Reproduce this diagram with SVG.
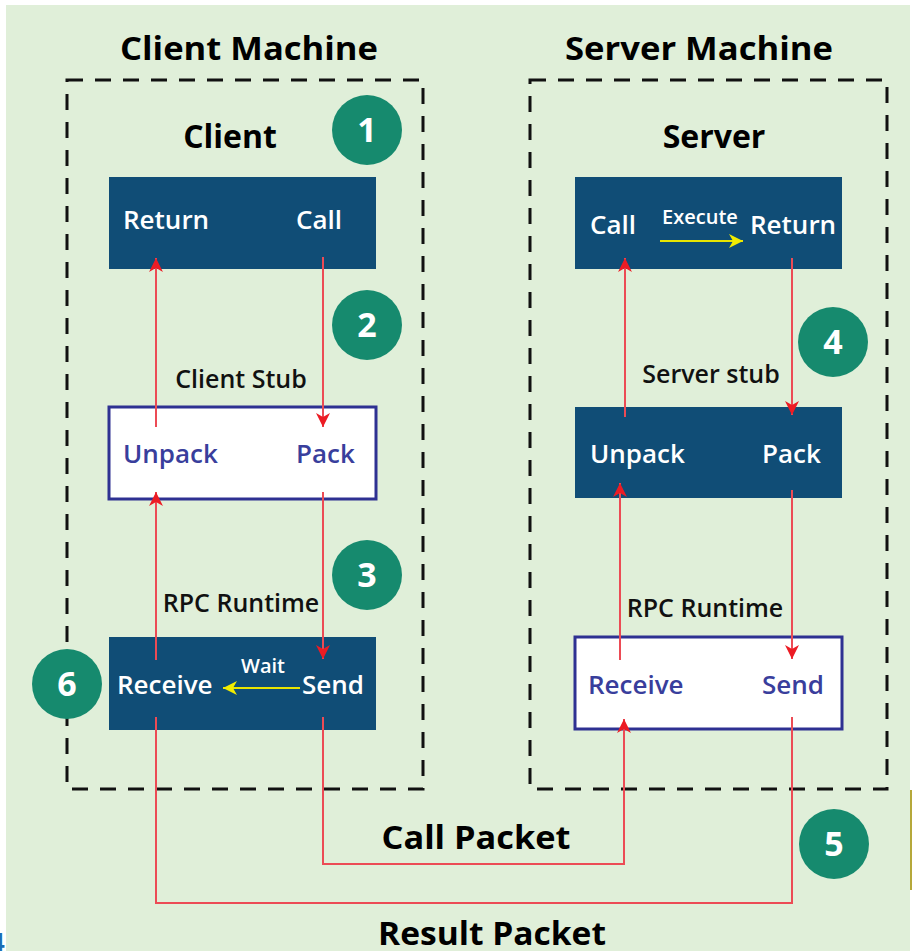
<svg xmlns="http://www.w3.org/2000/svg" width="912" height="951" viewBox="0 0 912 951">
  <defs>
    <marker id="redArrow" markerUnits="userSpaceOnUse" markerWidth="14" markerHeight="14" viewBox="0 0 14 14" refX="14" refY="7" orient="auto">
      <path d="M0,0 L14,7 L0,14 L4,7 z" fill="#ec1c24"/>
    </marker>
    <marker id="yellowArrow" markerUnits="userSpaceOnUse" markerWidth="14" markerHeight="14" viewBox="0 0 14 14" refX="14" refY="7" orient="auto">
      <path d="M0,0 L14,7 L0,14 L4,7 z" fill="#f2ec00"/>
    </marker>
    <style>
      .title { font-family: "Open Sans", "Liberation Sans", sans-serif; font-weight: bold; fill: #000; }
      .lbl { font-family: "Open Sans", "Liberation Sans", sans-serif; font-size: 25px; font-weight: 600; fill: #111; }
      .wt { font-family: "Open Sans", "Liberation Sans", sans-serif; font-size: 26px; font-weight: 600; fill: #ffffff; }
      .pt { font-family: "Open Sans", "Liberation Sans", sans-serif; font-size: 26px; font-weight: 600; fill: #393e9c; }
      .small { font-family: "Open Sans", "Liberation Sans", sans-serif; font-size: 20px; font-weight: 600; fill: #ffffff; }
      .dark { fill: #104d76; }
      .white { fill: #ffffff; stroke: #2e3192; stroke-width: 3; }
      .machine { fill: none; stroke: #111; stroke-width: 3; stroke-dasharray: 16 12; }
      .badge { fill: #168a6e; }
      .num { font-family: "Open Sans", "Liberation Sans", sans-serif; font-weight: bold; font-size: 34px; fill: #fff; text-anchor: middle; }
      .red { fill: none; stroke: #ec4b55; stroke-width: 2; }
      .yel { fill: none; stroke: #e8e400; stroke-width: 2; }
    </style>
  </defs>

  <rect x="0" y="0" width="912" height="951" fill="#ffffff"/>
  <rect x="6" y="5" width="904" height="946" fill="#e0efd9"/>
  <rect x="910" y="790" width="2" height="100" fill="#b5a83a"/>
  <text x="-10" y="951" font-family="Liberation Sans, sans-serif" font-weight="bold" font-size="26" fill="#1a6db5">4</text>

  <g id="client-machine">
    <rect class="machine" x="67" y="80" width="356" height="709"/>
    <text class="title" x="249" y="60" font-size="33" text-anchor="middle" textLength="258" lengthAdjust="spacingAndGlyphs">Client Machine</text>
    <text class="title" x="230" y="148" font-size="32" text-anchor="middle">Client</text>
  </g>

  <g id="server-machine">
    <rect class="machine" x="530" y="80" width="357" height="709"/>
    <text class="title" x="699" y="60" font-size="33" text-anchor="middle" textLength="268" lengthAdjust="spacingAndGlyphs">Server Machine</text>
    <text class="title" x="714" y="148" font-size="32" text-anchor="middle">Server</text>
  </g>

  <g id="client-app">
    <rect class="dark" x="109" y="177" width="267" height="92"/>
    <text class="wt" x="123" y="229">Return</text>
    <text class="wt" x="296" y="229">Call</text>
  </g>

  <g id="client-stub">
    <text class="lbl" x="241" y="388" text-anchor="middle">Client Stub</text>
    <rect class="white" x="109" y="407" width="267" height="92"/>
    <text class="pt" x="123" y="463">Unpack</text>
    <text class="pt" x="296" y="463">Pack</text>
  </g>

  <g id="client-rpc">
    <text class="lbl" x="241" y="612" text-anchor="middle">RPC Runtime</text>
    <rect class="dark" x="109" y="637" width="267" height="93"/>
    <text class="wt" x="117" y="694">Receive</text>
    <text class="wt" x="302" y="694">Send</text>
    <text class="small" x="263" y="673" text-anchor="middle">Wait</text>
  </g>

  <g id="server-app">
    <rect class="dark" x="575" y="177" width="267" height="92"/>
    <text class="wt" x="590" y="234">Call</text>
    <text class="wt" x="750" y="234">Return</text>
    <text class="small" x="700" y="224" text-anchor="middle">Execute</text>
  </g>

  <g id="server-stub">
    <text class="lbl" x="711" y="383" text-anchor="middle">Server stub</text>
    <rect class="dark" x="575" y="407" width="267" height="91"/>
    <text class="wt" x="590" y="463">Unpack</text>
    <text class="wt" x="762" y="463">Pack</text>
  </g>

  <g id="server-rpc">
    <text class="lbl" x="705" y="617" text-anchor="middle">RPC Runtime</text>
    <rect class="white" x="575" y="637" width="267" height="92"/>
    <text class="pt" x="588" y="694">Receive</text>
    <text class="pt" x="762" y="694">Send</text>
  </g>

  <g id="badges">
    <circle class="badge" cx="367" cy="130" r="35"/><text class="num" x="367" y="142">1</text>
    <circle class="badge" cx="367" cy="325" r="35"/><text class="num" x="367" y="337">2</text>
    <circle class="badge" cx="367" cy="575" r="35"/><text class="num" x="367" y="587">3</text>
    <circle class="badge" cx="833" cy="342" r="35"/><text class="num" x="833" y="354">4</text>
    <circle class="badge" cx="834" cy="844" r="35"/><text class="num" x="834" y="856">5</text>
    <circle class="badge" cx="67" cy="684" r="35"/><text class="num" x="67" y="696">6</text>
  </g>

  <g id="packet-labels">
    <text class="title" x="476" y="849" font-size="33" text-anchor="middle" textLength="189" lengthAdjust="spacingAndGlyphs">Call Packet</text>
    <text class="title" x="492" y="945" font-size="33" text-anchor="middle" textLength="228" lengthAdjust="spacingAndGlyphs">Result Packet</text>
  </g>

  <g id="connectors">
    <path class="red" d="M156,427 L156,258" marker-end="url(#redArrow)"/>
    <path class="red" d="M323,257 L323,427" marker-end="url(#redArrow)"/>
    <path class="red" d="M323,492 L323,659" marker-end="url(#redArrow)"/>
    <path class="red" d="M156,660 L156,492" marker-end="url(#redArrow)"/>
    <path class="red" d="M323,717 L323,864 L624,864 L624,719" marker-end="url(#redArrow)"/>
    <path class="red" d="M156,717 L156,903 L792,903 L792,717"/>
    <path class="red" d="M625,417 L625,258" marker-end="url(#redArrow)"/>
    <path class="red" d="M792,258 L792,415" marker-end="url(#redArrow)"/>
    <path class="red" d="M792,490 L792,659" marker-end="url(#redArrow)"/>
    <path class="red" d="M620,660 L620,483" marker-end="url(#redArrow)"/>
    <path class="yel" d="M660,241 L743,241" marker-end="url(#yellowArrow)"/>
    <path class="yel" d="M300,688 L223,688" marker-end="url(#yellowArrow)"/>
  </g>
</svg>
